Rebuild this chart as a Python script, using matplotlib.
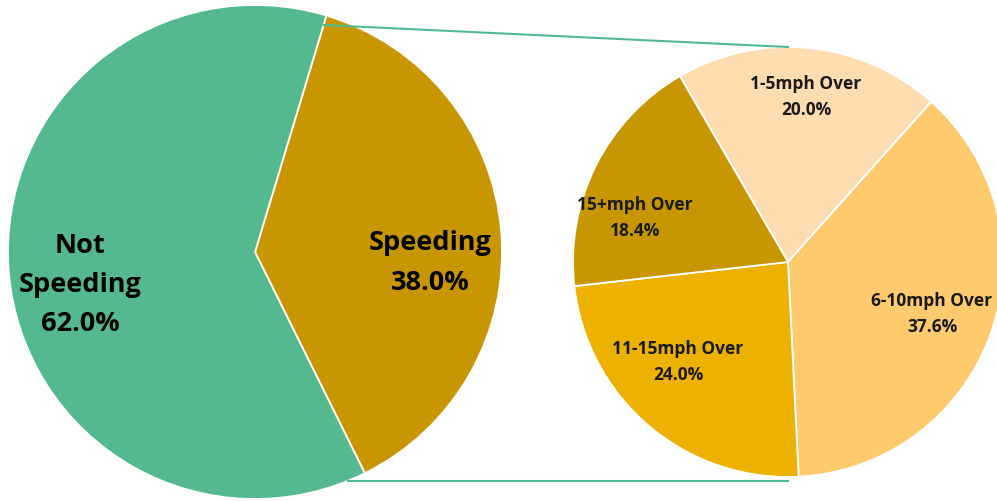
import numpy as np
import matplotlib.pyplot as plt

# main split
main_labels = ['Speeding', 'Not\nSpeeding']
main_values = [38.0, 62.0]
main_colors = ['#C89600', '#55B990']

# breakdown of speeding
sub_labels = ['1-5mph Over', '6-10mph Over', '11-15mph Over', '15+mph Over']
sub_values = [20.0, 37.6, 24.0, 18.4]
sub_colors = ['#FDDDB0', '#FFCA6E', '#EDB100', '#C89600']

W, H = 997, 501
fig = plt.figure(figsize=(W / 100, H / 100), dpi=100)
ax = fig.add_axes([0, 0, 1, 1])

plt.rcParams['font.family'] = ['Open Sans', 'DejaVu Sans']

c1, r1 = (255, H - 252), 247
c2, r2 = (788, H - 262), 215
start1 = 73.2
start2 = 120.2

wp = dict(edgecolor='white', linewidth=1.3)
ax.pie(main_values, colors=main_colors, startangle=start1, counterclock=False,
       center=c1, radius=r1, wedgeprops=wp, frame=True)
ax.pie(sub_values, colors=sub_colors, startangle=start2, counterclock=False,
       center=c2, radius=r2, wedgeprops=wp, frame=True)
ax.set_xlim(0, W)
ax.set_ylim(0, H)
ax.set_aspect('equal')
ax.axis('off')

# connector lines
line_col = '#55B990'
a = np.deg2rad(start1)
p_top = (c1[0] + 0.96 * r1 * np.cos(a), c1[1] + 0.96 * r1 * np.sin(a))
ax.plot([p_top[0], c2[0]], [p_top[1], c2[1] + r2], color=line_col, lw=1.5, zorder=5)
y_bot = c2[1] - r2 - 4
dx = np.sqrt(r1 ** 2 - (c1[1] - y_bot) ** 2)
ax.plot([c1[0] + dx, c2[0]], [y_bot, y_bot], color=line_col, lw=1.5, zorder=5)

# labels on main pie
main_pos = [(430, H - 263), (80, H - 285)]
for lab, v, (x, y) in zip(main_labels, main_values, main_pos):
    ax.text(x, y, f'{lab}\n{v:.1f}%', ha='center', va='center', fontsize=19.5,
            fontweight='bold', color='black', linespacing=1.65, zorder=6)

# labels on breakdown pie
sub_pos = [(806, H - 97), (932, H - 314), (678, H - 362), (635, H - 218)]
for lab, v, (x, y) in zip(sub_labels, sub_values, sub_pos):
    ax.text(x, y, f'{lab}\n{v:.1f}%', ha='center', va='center', fontsize=12.5,
            fontweight='bold', color='#1a1a1a', linespacing=1.6, zorder=6)

fig.savefig('out.png', dpi=100, facecolor='white')
